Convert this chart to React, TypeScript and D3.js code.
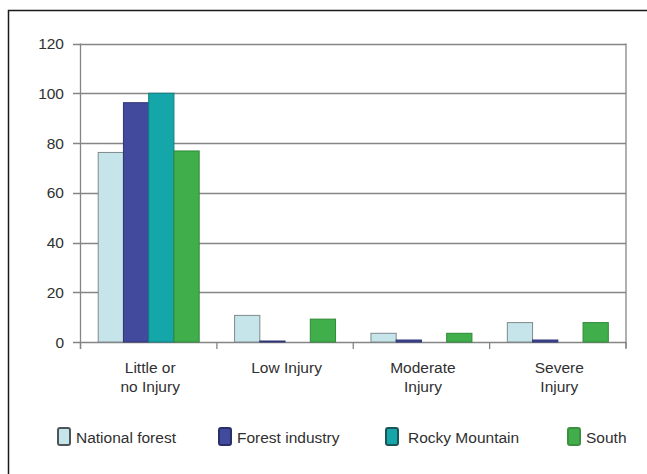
import React from "react";
import * as d3 from "d3";

const categories = ["Little or\nno Injury", "Low Injury", "Moderate\nInjury", "Severe\nInjury"];
const seriesNames = ["National forest", "Forest industry", "Rocky Mountain", "South"];
const nationalForest = [76.2, 10.7, 3.5, 7.8];
const forestIndustry = [96.2, 0.4, 0.8, 0.8];
const rockyMountain = [100, 0, 0, 0];
const south = [76.8, 9.2, 3.5, 7.8];
const yTicks = [0, 20, 40, 60, 80, 100, 120];

const seriesValues = [nationalForest, forestIndustry, rockyMountain, south];
const fills = ["#c6e5ea", "#424a9e", "#14a6a9", "#40ae4a"];
const strokes = ["#7f8a8c", "#2f3572", "#0e7d80", "#2f8a38"];
const legendStrokes = ["#4f5556", "#2a2f6a", "#1d5557", "#3c8f3f"];
const legendSwatchX = [58, 219, 386, 568];

const W = 647, H = 474;
const left = 80.5, right = 626, top = 43.5, bottom = 342;

export default function App() {
  const x = d3.scaleBand<number>().domain(d3.range(categories.length)).range([left, right]).paddingInner(0).paddingOuter(0);
  const inner = d3.scaleBand<number>().domain(d3.range(seriesNames.length)).range([17.7, x.bandwidth() - 17.7]);
  const y = d3.scaleLinear().domain([0, 120]).range([bottom, top]);
  const font = "'Liberation Sans', Arial, Helvetica, sans-serif";
  const boundaries = d3.range(categories.length + 1).map(i => left + i * x.bandwidth());
  const fs = 15.5;
  const txt = "#303030";

  return (
    <svg width={W} height={H} style={{ position: "absolute", left: 0, top: 0, background: "#fff" }} fontFamily={font}>
      <rect x={8.5} y={10.5} width={700} height={500} fill="none" stroke="#1a1a1a" strokeWidth={1.5} />
      {yTicks.map(t => (
        <g key={t}>
          <line x1={73} x2={right} y1={Math.round(y(t)) + 0.5} y2={Math.round(y(t)) + 0.5} stroke="#858585" strokeWidth={1.3} />
          <text x={64} y={y(t) + 5.5} textAnchor="end" fontSize={fs} fill={txt}>{t}</text>
        </g>
      ))}
      <line x1={left} x2={left} y1={top} y2={bottom + 7} stroke="#858585" strokeWidth={1.3} />
      <line x1={right} x2={right} y1={top} y2={bottom + 6} stroke="#858585" strokeWidth={1.3} />
      {boundaries.map((b, i) => (
        <line key={i} x1={b} x2={b} y1={bottom} y2={bottom + 7} stroke="#858585" strokeWidth={1.3} />
      ))}
      {categories.map((c, ci) => (
        <g key={c}>
          {seriesValues.map((vals, si) => {
            const v = vals[ci];
            if (v <= 0) return null;
            const bx = (x(ci) as number) + (inner(si) as number);
            const by = y(v);
            return (
              <rect key={si} x={bx} y={by} width={inner.bandwidth()} height={bottom - by}
                fill={fills[si]} stroke={strokes[si]} strokeWidth={1} />
            );
          })}
          {c.split("\n").map((line, li) => (
            <text key={li} x={(x(ci) as number) + x.bandwidth() / 2 + 1.5} y={372.5 + li * 19}
              textAnchor="middle" fontSize={fs} fill={txt}>{line}</text>
          ))}
        </g>
      ))}
      {seriesNames.map((s, si) => (
        <g key={s}>
          <rect x={legendSwatchX[si]} y={428} width={12} height={17} rx={2} fill={fills[si]} stroke={legendStrokes[si]} strokeWidth={2} />
          <text x={legendSwatchX[si] + (si === 2 ? 22 : 18)} y={442.5} fontSize={fs} fill={txt}>{s}</text>
        </g>
      ))}
    </svg>
  );
}
